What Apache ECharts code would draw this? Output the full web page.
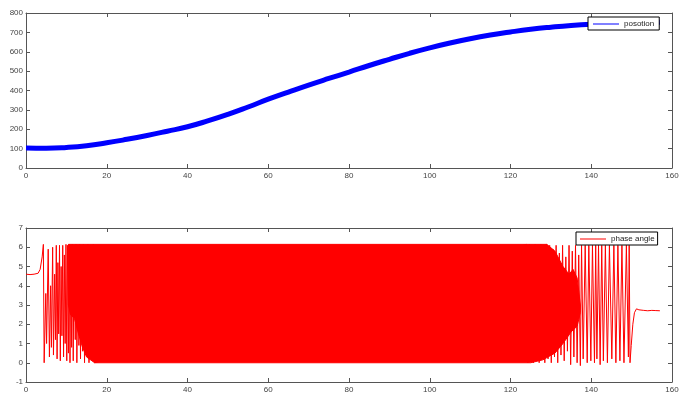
<!DOCTYPE html>
<html>
<head>
<meta charset="utf-8">
<script src="https://cdn.jsdelivr.net/npm/echarts@6/dist/echarts.min.js"></script>
<style>
html,body{margin:0;padding:0;background:#fff;}
#c{width:688px;height:395px;}
</style>
</head>
<body>
<div id="c"></div>
<script>
// ---- data ----
var posTime  = [0, 5, 10, 15, 20, 25, 30, 35, 40, 45, 50, 55, 60, 65, 70, 75, 80, 85, 90, 95, 100, 105, 110, 115, 120, 125, 130, 135, 140, 145, 150, 155, 157];
var posValue = [103, 102, 106, 115, 130, 148, 168, 190, 213, 243, 277, 315, 355, 392, 428, 462, 495, 529, 561, 592, 620, 645, 667, 686, 702, 716, 727, 736, 742, 745, 748, 750, 752];

// phase angle: sparse start (flat, rise, first wraps)
var phaseStart = [
  [0,4.6],[1,4.58],[2,4.6],[3,4.65],[3.5,4.85],[4.0,5.5],[4.3,6.15],[4.4,3.0],[4.5,0.0],
  [4.9,3.6],[5.1,1.0],[5.5,5.9],[5.8,0.3],[6.1,4.0],[6.3,0.8],[6.6,6.0],[6.8,0.4],
  [7.1,4.6],[7.3,1.2],[7.5,6.1],[7.7,0.2],[7.9,5.2],[8.1,1.5],[8.3,6.1],[8.5,0.1],
  [8.7,5.0],[8.9,1.4],[9.1,6.1],[9.3,0.3],[9.5,5.6],[9.7,1.0],[9.9,6.15],[10.1,0.1],
  [10.3,6.1],[10.5,0.5],[10.7,6.15],[10.9,0.0],[11.1,6.1],[11.3,0.8],[11.5,6.15],[11.7,0.1],
  [11.9,6.1],[12.2,1.2],[12.4,6.15],[12.6,0.0],[12.9,6.1],[13.1,0.9],[13.3,6.15],[13.5,0.2],
  [13.8,6.1],[14.0,0.6],[14.2,6.15],[14.5,0.0],[14.8,6.1],[15.0,0.4],[15.3,6.15],[15.6,0.0],
  [16.0,6.1],[16.3,0.2],[16.7,6.15],[17.0,0.0]
];
// phase angle: sparse end (last wraps, settling)
var phaseEnd = [
  [124.0,6.15],[124.3,0.0],[124.7,6.15],[125.0,0.1],[125.4,6.1],[125.7,0.0],[126.1,6.15],[126.4,0.2],
  [126.8,6.1],[127.1,0.0],[127.5,6.15],[127.8,0.3],[128.2,6.1],[128.5,0.0],[128.9,6.15],[129.3,0.2],
  [129.7,6.1],[130.1,0.0],[130.5,5.9],[130.9,0.3],[131.3,6.1],[131.7,0.0],[132.1,5.7],[132.5,0.4],
  [132.9,6.1],[133.3,0.1],[133.7,5.5],[134.1,0.6],[134.5,6.1],[134.9,-0.1],[135.3,5.8],[135.7,0.3],
  [136.1,6.1],[136.5,0.0],[136.9,5.6],[137.3,-0.15],[137.6,6.1],[138.0,0.2],[138.5,6.1],[139.0,0.0],
  [139.4,6.1],[139.9,0.1],[140.3,6.1],[140.8,0.0],[141.1,6.1],[141.4,0.2],[141.8,6.1],[142.2,-0.1],
  [142.6,6.1],[143.0,0.1],[143.5,6.1],[144.0,0.0],[144.5,6.1],[145.1,0.2],[145.6,6.1],[146.1,0.0],
  [146.6,6.1],[147.1,0.1],[147.6,6.1],[148.1,0.0],[148.7,6.1],[149.2,0.3],[149.4,6.1],[149.6,0.0],
  [149.9,0.9],[150.3,2.0],[150.7,2.6],[151.2,2.8],[151.8,2.75],[153,2.72],[154,2.7],[155,2.72],[156,2.71],[157,2.7]
];
// envelope of the densely wrapped middle part
var bandUpper = [[10.5,6.15],[129,6.15],[131,5.8],[133,5.0],[134.5,4.6],[135.5,4.85],[136.5,4.4],[137.3,3.0]];
var bandLower = [[10.5,3.0],[11,2.5],[12,2.3],[13,1.5],[14,0.8],[15,0.3],[17,0],[125,0],[128,0.15],[131,0.5],[133,1.0],[135,1.6],[136.5,1.9],[137.3,2.6]];

var xMin = 0, xMax = 160, xStep = 20;
var y1Min = 0, y1Max = 800, y1Step = 100;
var y2Min = -1, y2Max = 7, y2Step = 1;

// ---- chart ----
var axisCol = '#555';
var font = 'Liberation Sans, Arial, sans-serif';
function xAx(grid, pos, labels){
  return {type:'value', gridIndex:grid, position:pos, min:xMin, max:xMax, interval:xStep,
    axisLine:{show:true, onZero:false, lineStyle:{color:axisCol, width:1}},
    axisTick:{show:true, inside:true, length:4, lineStyle:{color:axisCol}},
    axisLabel:{show:labels, color:'#444', fontSize:8, fontFamily:font, margin:4},
    splitLine:{show:false}};
}
function yAx(grid, pos, labels, mn, mx, st){
  return {type:'value', gridIndex:grid, position:pos, min:mn, max:mx, interval:st,
    axisLine:{show:true, onZero:false, lineStyle:{color:axisCol, width:1}},
    axisTick:{show:true, inside:true, length:4, lineStyle:{color:axisCol}},
    axisLabel:{show:labels, color:'#444', fontSize:8, fontFamily:font, margin:3},
    splitLine:{show:false}};
}
var legIcon = 'path://M0,0L26,0L26,1L0,1Z';
var phaseData = phaseStart.concat(phaseEnd);
var chart = echarts.init(document.getElementById('c'), null, {renderer:'canvas'});
chart.setOption({
  animation:false,
  backgroundColor:'#fff',
  grid:[
    {left:26, right:16, top:13, height:155},
    {left:26, right:16, top:228, height:154}
  ],
  xAxis:[xAx(0,'bottom',true), xAx(0,'top',false), xAx(1,'bottom',true), xAx(1,'top',false)],
  yAxis:[yAx(0,'left',true,y1Min,y1Max,y1Step), yAx(0,'right',false,y1Min,y1Max,y1Step),
         yAx(1,'left',true,y2Min,y2Max,y2Step), yAx(1,'right',false,y2Min,y2Max,y2Step)],
  legend:[
    {data:[{name:'posotion', icon:legIcon}], left:588, top:17, backgroundColor:'#fff',
     borderColor:'#000', borderWidth:1, padding:[3,5,2,5], itemWidth:26, itemHeight:1, itemGap:0,
     textStyle:{fontSize:8, fontFamily:font, color:'#222'}, z:10},
    {data:[{name:'phase angle', icon:legIcon}], left:576, top:232, backgroundColor:'#fff',
     borderColor:'#000', borderWidth:1, padding:[3,3,2,4], itemWidth:26, itemHeight:1, itemGap:0,
     textStyle:{fontSize:8, fontFamily:font, color:'#222'}, z:10}
  ],
  series:[
    {name:'posotion', type:'line', xAxisIndex:0, yAxisIndex:0, symbol:'none', smooth:true,
     data: posTime.map(function(t,i){return [t, posValue[i]];}),
     lineStyle:{color:'#0000ff', width:5}, itemStyle:{color:'#0000ff'}},
    {name:'band', type:'custom', xAxisIndex:2, yAxisIndex:2, silent:true,
     data:[[bandUpper[0][0], bandUpper[0][1]]],
     renderItem:function(params, api){
       var pts = [];
       bandUpper.forEach(function(p){ pts.push(api.coord(p)); });
       for (var i = bandLower.length-1; i>=0; i--) pts.push(api.coord(bandLower[i]));
       return {type:'polygon', shape:{points:pts}, style:{fill:'#ff0000', stroke:'#ff0000', lineWidth:1}};
     }},
    {name:'phase angle', type:'line', xAxisIndex:2, yAxisIndex:2, symbol:'none',
     data: phaseData, lineStyle:{color:'#ff0000', width:1}, itemStyle:{color:'#ff0000'}}
  ]
});
</script>
</body>
</html>
